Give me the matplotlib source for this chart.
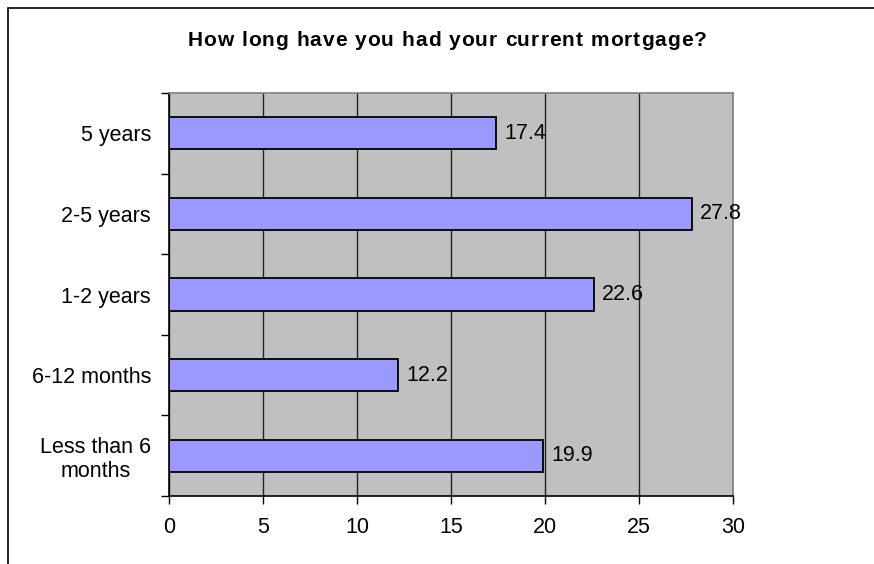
import matplotlib.pyplot as plt
from matplotlib.patches import Rectangle

plt.rcParams['font.family'] = ['Liberation Sans', 'DejaVu Sans']

categories = ['Less than 6\nmonths', '6-12 months', '1-2 years', '2-5 years', '5 years']
values = [19.9, 12.2, 22.6, 27.8, 17.4]
xticks = [0, 5, 10, 15, 20, 25, 30]
title = 'How long have you had your current mortgage?'

W, H = 874, 564
fs = 15.5
fig = plt.figure(figsize=(W / 100, H / 100), dpi=100)

# frame round the chart, open at right and bottom
fig.patches.append(Rectangle((8 / W, -0.1), 1.2, 1.1 - 8 / H, transform=fig.transFigure,
                             fill=False, edgecolor='black', linewidth=1.2))

ax = fig.add_axes([169 / W, 1 - 496 / H, (733 - 169) / W, (496 - 93) / H])
ax.set_facecolor('#c0c0c0')

pos = list(range(len(categories)))
ax.barh(pos, values, height=0.4, color='#9999ff', edgecolor='black', linewidth=1.3, zorder=3)
for p, v in zip(pos, values):
    ax.text(v + 0.42, p, '%.1f' % v, va='center', ha='left', fontsize=fs, zorder=4)

ax.set_xlim(0, 30)
ax.set_ylim(-0.5, len(categories) - 0.5)
ax.set_xticks(xticks)
ax.set_xticklabels([str(t) for t in xticks], fontsize=fs)
ax.xaxis.grid(True, color='#222222', linewidth=1)
ax.set_axisbelow(True)

ax.set_yticks(pos)
ax.set_yticklabels(categories, fontsize=fs, multialignment='center')
ax.set_yticks([p - 0.5 for p in pos] + [len(pos) - 0.5], minor=True)
ax.tick_params(axis='y', which='major', length=0, pad=13)
ax.tick_params(axis='y', which='minor', length=6, width=1, direction='out')
ax.tick_params(axis='x', length=6, width=1, direction='out', pad=9)

for s in ['left', 'bottom']:
    ax.spines[s].set_color('black')
    ax.spines[s].set_linewidth(1.2)
for s in ['top', 'right']:
    ax.spines[s].set_color('#808080')
    ax.spines[s].set_linewidth(1.2)

# title drawn letter by letter with a little extra tracking
renderer = fig.canvas.get_renderer()
tkw = dict(fontsize=15, fontweight='bold', va='center', ha='left')


def text_width(s):
    t = fig.text(0, 0, s + 'H', **tkw)
    ref = fig.text(0, 0, 'H', **tkw)
    w = t.get_window_extent(renderer).width - ref.get_window_extent(renderer).width
    t.remove()
    ref.remove()
    return w


track = 1.0
total = text_width(title) + track * (len(title) - 1)
x0 = 447 - total / 2
for i, ch in enumerate(title):
    if ch == ' ':
        continue
    x = x0 + text_width(title[:i]) + track * i
    fig.text(x / W, 1 - 40 / H, ch, **tkw)

fig.savefig('out.png', dpi=100)
